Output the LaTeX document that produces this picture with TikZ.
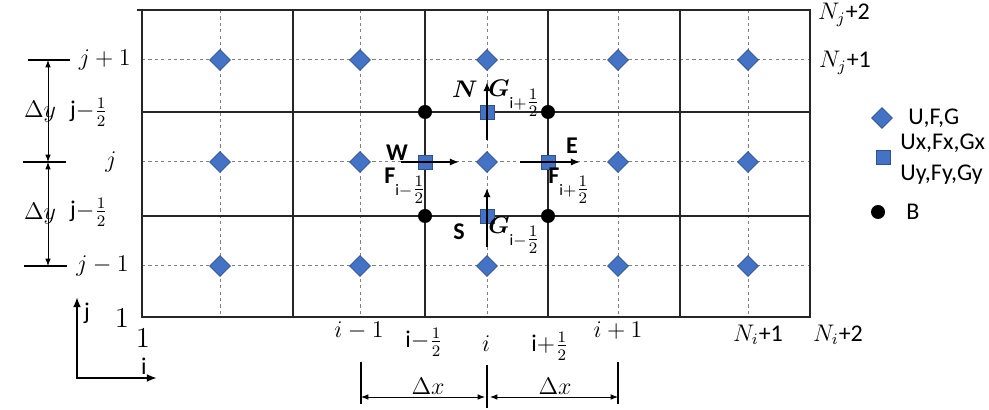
\documentclass[tikz,border=0pt]{standalone}
\usepackage{amsmath,amssymb}
\usepackage{fontspec}
\setmainfont{Carlito}
\usetikzlibrary{arrows.meta,shapes.geometric}
\definecolor{cellblue}{HTML}{4472C4}
\definecolor{celledge}{HTML}{2F528F}

\begin{document}
\begin{tikzpicture}[x=0.5pt, y=-0.5pt,
	every node/.style={font=\fontsize{11}{13}\selectfont, inner sep=0pt},
	gridline/.style={black!85, line width=1pt},
	halfline/.style={gray, line width=0.5pt, dash pattern=on 1.6pt off 1.6pt},
	ctr/.style={diamond, fill=cellblue, draw=celledge, line width=0.4pt, minimum size=10.5pt},
	face/.style={rectangle, fill=cellblue, draw=celledge, line width=0.4pt, minimum size=7pt},
	corner/.style={circle, fill=black, minimum size=7pt},
	flux/.style={-{Latex[length=1.6mm, width=1.3mm]}, line width=1pt},
	dim/.style={{Latex[length=1.3mm, width=1mm]}-{Latex[length=1.3mm, width=1mm]}, line width=0.45pt},
	axis/.style={{Latex[length=1.8mm, width=1.4mm]}-{Latex[length=1.8mm, width=1.4mm]}, line width=1pt},
	lab/.style={font=\large}]
	\useasboundingbox (0,0) rectangle (989,410);

	% grid
	\foreach \x in {220,360,487,618,748} {\draw[halfline] (\x,10) -- (\x,317);}
	\foreach \y in {60,162,266} {\draw[halfline] (142,\y) -- (810,\y);}
	\draw[gridline] (137,10) -- (810,10) -- (810,317) -- (142,317) -- (142,10);
	\foreach \x in {293,425,548,680} {\draw[gridline] (\x,10) -- (\x,317);}
	\foreach \y in {112,216} {\draw[gridline] (142,\y) -- (810,\y);}

	% cells, faces, corners
	\foreach \x/\i in {220/1,360/2,487/3,618/4,748/5}
		\foreach \y/\j in {60/3,162/2,266/1}
			{\node[ctr] (u\i\j) at (\x,\y) {};}
	\node[face] (fn) at (487,112) {};
	\node[face] (fw) at (425,162) {};
	\node[face] (fe) at (548,162) {};
	\node[face] (fs) at (487,216) {};
	\node[corner] (bnw) at (425,112) {};
	\node[corner] (bne) at (548,112) {};
	\node[corner] (bsw) at (425,216) {};
	\node[corner] (bse) at (548,216) {};

	% fluxes
	\coordinate (w0) at (401,162); \coordinate (w1) at (459,162);
	\coordinate (e0) at (520,162); \coordinate (e1) at (580,162);
	\coordinate (n0) at (487,140); \coordinate (n1) at (487,82);
	\coordinate (s0) at (487,247); \coordinate (s1) at (487,188);
	\draw[flux] (w0) -- (w1);
	\draw[flux] (e0) -- (e1);
	\draw[flux] (n0) -- (n1);
	\draw[flux] (s0) -- (s1);
	\node[font=\large\bfseries] (lw) at (397,153) {W};
	\node[font=\large\bfseries] (le) at (572,146) {E};
	\node[font=\large] (ln) at (465,89) {$\boldsymbol{N}$};
	\node[font=\large\bfseries] (ls) at (459,232) {S};
	\node[font=\large, anchor=base west] (lgn) at (488,97) {$\boldsymbol{G}_{\mathrm{i}+{\textstyle\frac{1}{2}}}$};
	\node[font=\large, anchor=base west] (lgs) at (488,234) {$\boldsymbol{G}_{\mathrm{i}-{\textstyle\frac{1}{2}}}$};
	\node[font=\large, anchor=base west] (lfw) at (384,184) {$\mathbf{F}_{\mathrm{i}-{\textstyle\frac{1}{2}}}$};
	\node[font=\large, anchor=base west] (lfe) at (548,184) {$\mathbf{F}_{\mathrm{i}+{\textstyle\frac{1}{2}}}$};

	% j labels and dy
	\node[lab, anchor=east] (jp) at (131,60) {$j+1$};
	\node[lab] (jc) at (111,162) {$j$};
	\node[lab, anchor=east] (jm) at (129,266) {$j-1$};
	\node[lab] (jhu) at (89,112) {j$-\frac{1}{2}$};
	\node[lab] (jhl) at (89,212) {j$-\frac{1}{2}$};
	\coordinate (dyt) at (48,60); \coordinate (dym) at (48,162); \coordinate (dyb) at (48,266);
	\draw[line width=0.8pt] (28,60) -- (70,60);
	\draw[line width=0.8pt] (23,162) -- (66,162);
	\draw[line width=0.8pt] (24,266) -- (67,266);
	\draw[dim] (dyt) -- (dym);
	\draw[dim] (dym) -- (dyb);
	\node[lab] (dyu) at (40,112) {$\Delta y$};
	\node[lab] (dyl) at (40,214) {$\Delta y$};

	% i labels and dx
	\node[lab] (im) at (359,331) {$i-1$};
	\node[lab] (ihw) at (424,342) {i$-\frac{1}{2}$};
	\node[lab] (ic) at (486,344) {$i$};
	\node[lab] (ihe) at (550,346) {i$+\frac{1}{2}$};
	\node[lab] (ip) at (618,331) {$i+1$};
	\node[lab] (ni1) at (758,335) {$N_i$+1};
	\node[lab] (ni2) at (838,335) {$N_i$+2};
	\node[lab] (nj2) at (844,15) {$N_j$+2};
	\node[lab] (nj1) at (845,63) {$N_j$+1};
	\coordinate (dxl) at (361,397); \coordinate (dxc) at (485,397);
	\coordinate (dxd) at (490,397); \coordinate (dxr) at (618,397);
	\draw[line width=0.8pt] (361,362) -- (361,404);
	\draw[line width=0.8pt] (487,365) -- (487,408);
	\draw[line width=0.8pt] (618,362) -- (618,404);
	\draw[dim] (dxl) -- (dxc);
	\draw[dim] (dxd) -- (dxr);
	\node[lab] (dxa) at (428,386) {$\Delta x$};
	\node[lab] (dxb) at (555,386) {$\Delta x$};

	% index axes
	\coordinate (o) at (77,378);
	\draw[axis] (77,297) -- (o) -- (157,378);
	\node[lab] (aj) at (87,313) {j};
	\node[lab] (ai) at (144,366) {i};
	\node[font=\Large] (one1) at (122,318) {$1$};
	\node[font=\Large] (one2) at (143,338) {$1$};

	% legend
	\node[ctr] (kc) at (882,118) {};
	\node[lab, anchor=west] (kct) at (908,118) {U,F,G};
	\node[face] (kf) at (883,157) {};
	\node[lab, anchor=west] (kft1) at (900,143) {Ux,Fx,Gx};
	\node[lab, anchor=west] (kft2) at (900,175) {Uy,Fy,Gy};
	\node[corner] (kb) at (878,212) {};
	\node[lab, anchor=west] (kbt) at (906,212) {B};
\end{tikzpicture}
\end{document}
